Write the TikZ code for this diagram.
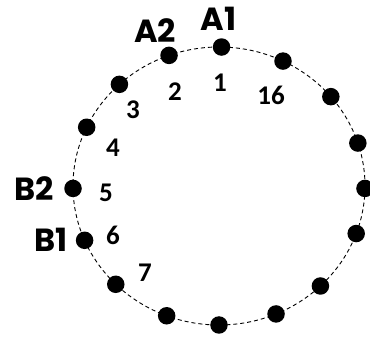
\documentclass[tikz,border=0pt]{standalone}
\usepackage{fontspec}
\newfontfamily\numfont{Carlito}[BoldFont={Carlito Bold}]
\newfontfamily\tagfont{Poppins}
\usetikzlibrary{positioning}
\tikzset{
  dot/.style={circle, fill=black, inner sep=0pt, minimum size=17.5pt},
  num/.style={font=\numfont\bfseries\fontsize{27}{27}\selectfont, inner sep=0pt},
  tag/.style={font=\tagfont\bfseries\fontsize{32}{32}\selectfont, inner sep=0pt},
}
\begin{document}
\begin{tikzpicture}[x=1pt,y=1pt]
    \useasboundingbox (-219,-154) rectangle (151,186);
    % Dashed ring
    \draw[dash pattern=on 4pt off 3pt, line width=0.9pt] (0,0) ellipse (146 and 139);
    % Sixteen dots on the ring
    \foreach \i/\a in {1/89,2/110,3/133,4/155,5/181,6/203,7/225,8/249,
                       9/270,10/293,11/314,12/340,13/359,14/18,15/40,16/64}
        \node[dot] (d\i) at (\a:146 and 139) {};
    % Dot numbers
    \node[num] (n1) at (1,103) {1};
    \node[num] (n2) at (-44,94) {2};
    \node[num] (n3) at (-86,76) {3};
    \node[num] (n4) at (-106,38) {4};
    \node[num] (n5) at (-113,-7) {5};
    \node[num] (n6) at (-106,-49) {6};
    \node[num] (n7) at (-74,-87) {7};
    \node[num] (n16) at (52,91) {16};
    % Port tags
    \node[tag, above=7pt of d1, xshift=-3pt] (a1) {A1};
    \node[tag, above=4pt of d2, xshift=-14pt] (a2) {A2};
    \node[tag, left=10pt of d5] (b2) {B2};
    \node[tag, left=8pt of d6] (b1) {B1};
\end{tikzpicture}
\end{document}
